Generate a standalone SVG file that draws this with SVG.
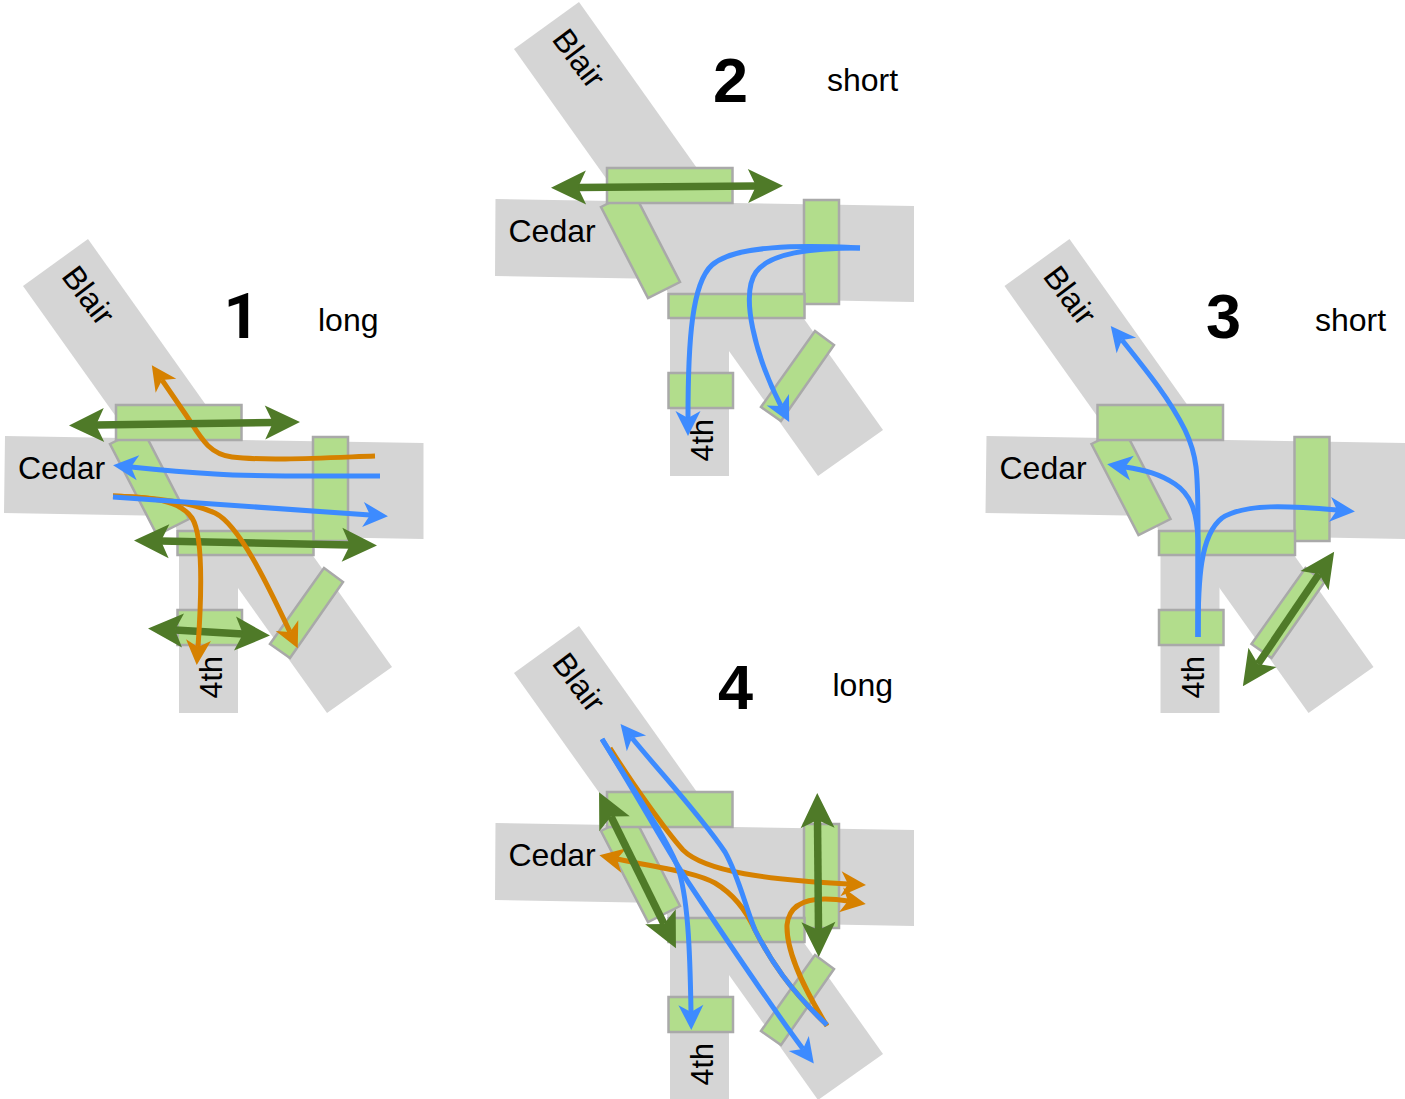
<svg xmlns="http://www.w3.org/2000/svg" width="1405" height="1099" viewBox="0 0 1405 1099">
<style>
.road{fill:#d5d5d5}
.sig{fill:#b2dd8c;stroke:#a9a9a9;stroke-width:2.5}
text{font-family:"Liberation Sans",Arial,sans-serif;fill:#000}
.lbl{font-size:32px}
.four{font-size:30.500px}
.num{font-size:63px;font-weight:bold}
.one{font-family:Roboto,"Liberation Sans",sans-serif}
path.b,path.o,path.g{fill:none}
path.b{stroke:#3d8bff;stroke-width:5;marker-end:url(#hb)}
path.o{stroke:#d68100;stroke-width:5;marker-end:url(#ho)}
path.g{stroke:#4f7a28;stroke-width:7.500;marker-start:url(#hg);marker-end:url(#hg)}
</style>
<defs>
<marker id="hb" markerUnits="userSpaceOnUse" viewBox="-10 -14 32 28" markerWidth="32" markerHeight="28" refX="0" refY="0" orient="auto"><path d="M-7,-12.500L18,0L-7,12.500L0,0Z" fill="#3d8bff"/></marker>
<marker id="ho" markerUnits="userSpaceOnUse" viewBox="-10 -14 32 28" markerWidth="32" markerHeight="28" refX="0" refY="0" orient="auto"><path d="M-7,-12.500L18,0L-7,12.500L0,0Z" fill="#d68100"/></marker>
<marker id="hg" markerUnits="userSpaceOnUse" viewBox="-12 -18 42 36" markerWidth="42" markerHeight="36" refX="0" refY="0" orient="auto-start-reverse"><path d="M-8,-17L27,0L-8,17L0,0Z" fill="#4f7a28"/></marker>
</defs>

<g id="intersection-1">
<polygon class="road" points="88,239 392,667 327,713 23,286"/>
<polygon class="road" points="5,436 423.500,443 423.500,539 313,537 313,531 177,531 172,516 4,513"/>
<rect class="road" x="179" y="540" width="59" height="173"/>
<polygon class="sig" points="110,444 142,428 189,519 157,535"/>
<polygon class="sig" points="324,568 343,582 290,658 270,644"/>
<rect class="sig" x="116" y="405" width="125.500" height="35"/>
<rect class="sig" x="313" y="437" width="35" height="104"/>
<rect class="sig" x="177.500" y="531" width="136" height="24"/>
<rect class="sig" x="177.500" y="610" width="64.500" height="35"/>
<text class="lbl" x="18" y="479">Cedar</text>
<text class="lbl" transform="translate(60.500,276.500) rotate(53)">Blair</text>
<text class="four" transform="translate(222,698.500) rotate(-90)">4th</text>
<text class="num one" x="223.500" y="338">1</text>
<text class="lbl" x="318" y="331">long</text>
</g>

<g id="intersection-2" transform="translate(491,-237)">
<polygon class="road" points="88,239 392,667 327,713 23,286"/>
<polygon class="road" points="4.500,436 423,443 423,539 313,537 313,531 177,531 172,516 4,513"/>
<rect class="road" x="179" y="540" width="59" height="173"/>
<polygon class="sig" points="110,444 142,428 189,519 157,535"/>
<polygon class="sig" points="324,568 343,582 290,658 270,644"/>
<rect class="sig" x="116" y="405" width="125.500" height="35"/>
<rect class="sig" x="313" y="437" width="35" height="104"/>
<rect class="sig" x="177.500" y="531" width="136" height="24"/>
<rect class="sig" x="177.500" y="610" width="64.500" height="35"/>
<text class="lbl" x="17.500" y="479">Cedar</text>
<text class="lbl" transform="translate(60,276.500) rotate(53)">Blair</text>
<text class="four" transform="translate(221.500,698.500) rotate(-90)">4th</text>
<text class="num" x="222" y="339">2</text>
<text class="lbl" x="336" y="328">short</text>
</g>

<g id="intersection-3" transform="translate(981.500,0)">
<polygon class="road" points="88,239 392,667 327,713 23,286"/>
<polygon class="road" points="5,436 423.500,443 423.500,539 313,537 313,531 177,531 172,516 4,513"/>
<rect class="road" x="179" y="540" width="59" height="173"/>
<polygon class="sig" points="110,444 142,428 189,519 157,535"/>
<polygon class="sig" points="324,568 343,582 290,658 270,644"/>
<rect class="sig" x="116" y="405" width="125.500" height="35"/>
<rect class="sig" x="313" y="437" width="35" height="104"/>
<rect class="sig" x="177.500" y="531" width="136" height="24"/>
<rect class="sig" x="177.500" y="610" width="64.500" height="35"/>
<text class="lbl" x="18" y="479">Cedar</text>
<text class="lbl" transform="translate(60.500,276.500) rotate(53)">Blair</text>
<text class="four" transform="translate(222,698.500) rotate(-90)">4th</text>
<text class="num" x="224.500" y="338">3</text>
<text class="lbl" x="333.500" y="331">short</text>
</g>

<g id="intersection-4" transform="translate(491,387)">
<polygon class="road" points="88,239 392,667 327,713 23,286"/>
<polygon class="road" points="4.500,436 423,443 423,539 313,537 313,531 177,531 172,516 4,513"/>
<rect class="road" x="179" y="540" width="59" height="173"/>
<polygon class="sig" points="110,444 142,428 189,519 157,535"/>
<polygon class="sig" points="324,568 343,582 290,658 270,644"/>
<rect class="sig" x="116" y="405" width="125.500" height="35"/>
<rect class="sig" x="313" y="437" width="35" height="104"/>
<rect class="sig" x="177.500" y="531" width="136" height="24"/>
<rect class="sig" x="177.500" y="610" width="64.500" height="35"/>
<text class="lbl" x="17.500" y="479">Cedar</text>
<text class="lbl" transform="translate(60,276.500) rotate(53)">Blair</text>
<text class="four" transform="translate(221.500,698.500) rotate(-90)">4th</text>
<text class="num" x="227" y="322">4</text>
<text class="lbl" x="341.500" y="309">long</text>
</g>

<g id="connectors">
<path class="g" d="M161,541L350,545"/>
<path class="g" d="M175,630L243,634"/>
<path class="o" d="M375,456C320,458 265,461 232,457C208,454 200,436 186,415L162,380"/>
<path class="o" d="M113,496C150,497 180,500 192,518C203,535 202,590 198,647"/>
<path class="o" d="M113,496C150,497 190,502 215,513C240,525 270,590 290,632"/>
<path class="b" d="M380,476C320,476 260,477 215,474C180,472 160,470 131,467"/>
<path class="b" d="M113,497L370,515"/>
<path class="g" d="M96,425L273,422.500"/>

<path class="g" d="M578,187.500L756,186"/>
<path class="b" d="M860,248C800,245 735,245 712,265C692,283 688,340 688,418"/>
<path class="b" d="M860,248C810,248 770,253 756,272C740,295 755,355 781,406"/>

<path class="g" d="M1258,664L1319,574"/>
<path class="b" d="M1198,637L1198,530C1198,470 1197,455 1185,430C1170,400 1150,375 1122,340"/>
<path class="b" d="M1198,637L1198,540C1197,510 1190,494 1175,484C1160,474 1145,470 1125,467"/>
<path class="b" d="M1198,637C1198,580 1200,535 1222,518C1245,503 1290,506 1337,510"/>

<path class="o" d="M610,748C630,780 665,830 683,850C705,872 770,880 848,884"/>
<path class="o" d="M827,1025C790,990 770,960 755,930C745,908 730,892 715,883C695,872 660,868 617,859"/>
<path class="o" d="M827,1026C808,995 786,955 787,925C789,905 805,899 825,899C835,899 842,900 848,901"/>
<path class="b" d="M602,739C630,785 665,835 677,865C688,895 690,950 691,1012"/>
<path class="b" d="M602,739C640,800 670,855 690,885C720,930 770,1005 803,1049"/>
<path class="b" d="M827,1025C790,990 770,960 755,930C745,905 738,875 725,852C700,815 665,778 632,738"/>
<path class="g" d="M611,816.500L664,924"/>
<path class="g" d="M817.500,820L818.500,930"/>
</g>
</svg>
